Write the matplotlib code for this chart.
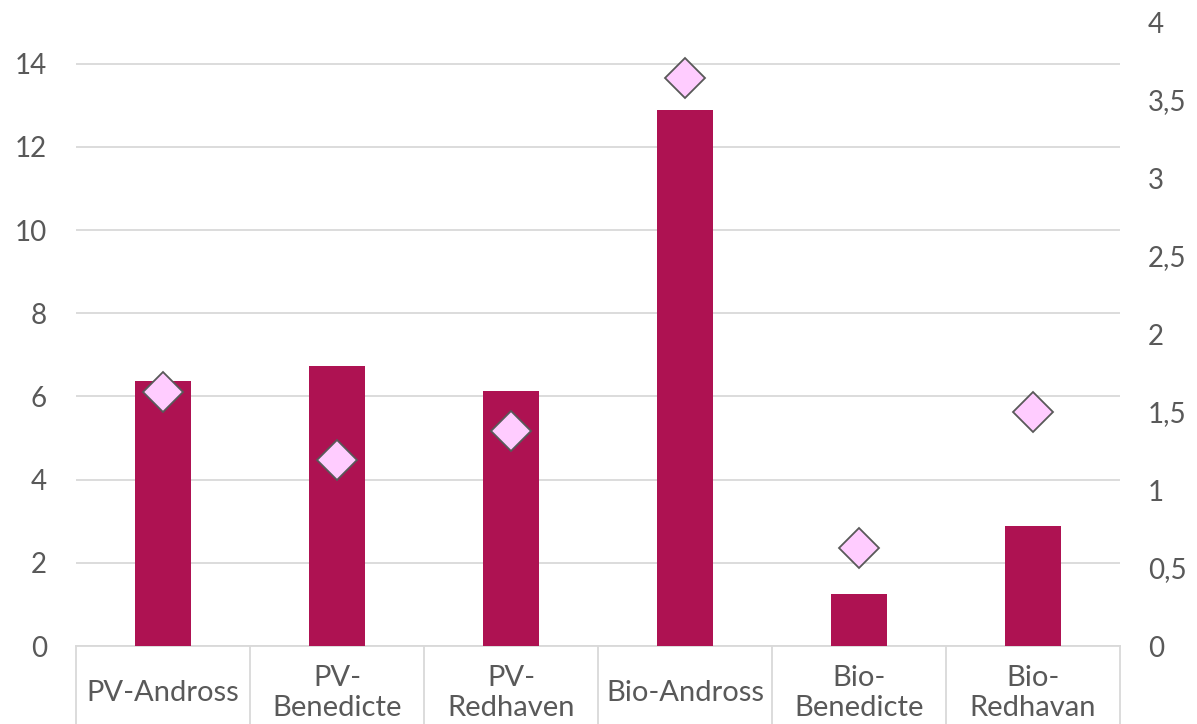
import matplotlib

matplotlib.use("Agg")
import matplotlib.pyplot as plt
import matplotlib.transforms as mtransforms
import numpy as np

categories = ["PV-Andross", "PV-\nBenedicte", "PV-\nRedhaven",
              "Bio-Andross", "Bio-\nBenedicte", "Bio-\nRedhavan"]
bar_values = [6.38, 6.74, 6.14, 12.88, 1.25, 2.88]
diamond_values = [1.63, 1.19, 1.38, 3.64, 0.63, 1.50]
left_ticks = [0, 2, 4, 6, 8, 10, 12, 14]
right_ticks = [0, 0.5, 1, 1.5, 2, 2.5, 3, 3.5, 4]
right_labels = ["0", "0,5", "1", "1,5", "2", "2,5", "3", "3,5", "4"]

text_color = "#595959"
grid_color = "#D9D9D9"
plt.rcParams["font.family"] = ["Lato", "DejaVu Sans"]

fig = plt.figure(figsize=(11.97, 7.24), dpi=100)
ax = fig.add_axes([0.0635, 0.1077, 0.8722, 0.8619])
ax2 = ax.twinx()

x = np.arange(len(categories))
ax.bar(x, bar_values, width=0.32, color="#AE1252", zorder=2)
ax2.plot(x, diamond_values, linestyle="none", marker="D", markersize=20,
         markerfacecolor="#FFCCFF", markeredgecolor=text_color,
         markeredgewidth=1.3, zorder=3)

ax.set_xlim(-0.5, len(categories) - 0.5)
ax.set_ylim(0, 15)
ax2.set_ylim(0, 4)
ax.set_yticks(left_ticks)
ax.set_yticklabels([str(t) for t in left_ticks])
ax2.set_yticks(right_ticks)
ax2.set_yticklabels(right_labels)

ax.grid(axis="y", color=grid_color, linewidth=1.3, zorder=0)
ax.set_axisbelow(True)

for a in (ax, ax2):
    for side in ("top", "left", "right", "bottom"):
        a.spines[side].set_visible(False)
    a.tick_params(axis="y", length=0, labelsize=20, labelcolor=text_color)
ax.tick_params(axis="y", pad=21)
ax2.tick_params(axis="y", pad=20)

ax.set_xticks([])

# category "table" below the axis
trans = mtransforms.blended_transform_factory(ax.transData, ax.transAxes)
ax.plot([-0.5, len(categories) - 0.5], [0, 0], transform=trans,
        color=grid_color, linewidth=1.3, clip_on=False, zorder=1)
for b in np.arange(-0.5, len(categories), 1.0):
    ax.plot([b, b], [0, -0.2], transform=trans, color=grid_color,
            linewidth=1.3, clip_on=False)

for xi, label in zip(x, categories):
    ax.annotate(label, xy=(xi, 0), xycoords=trans, xytext=(0, -34),
                textcoords="offset points", ha="center", va="center",
                fontsize=21, color=text_color, linespacing=1.2,
                annotation_clip=False)

plt.savefig("out.png", dpi=100)
